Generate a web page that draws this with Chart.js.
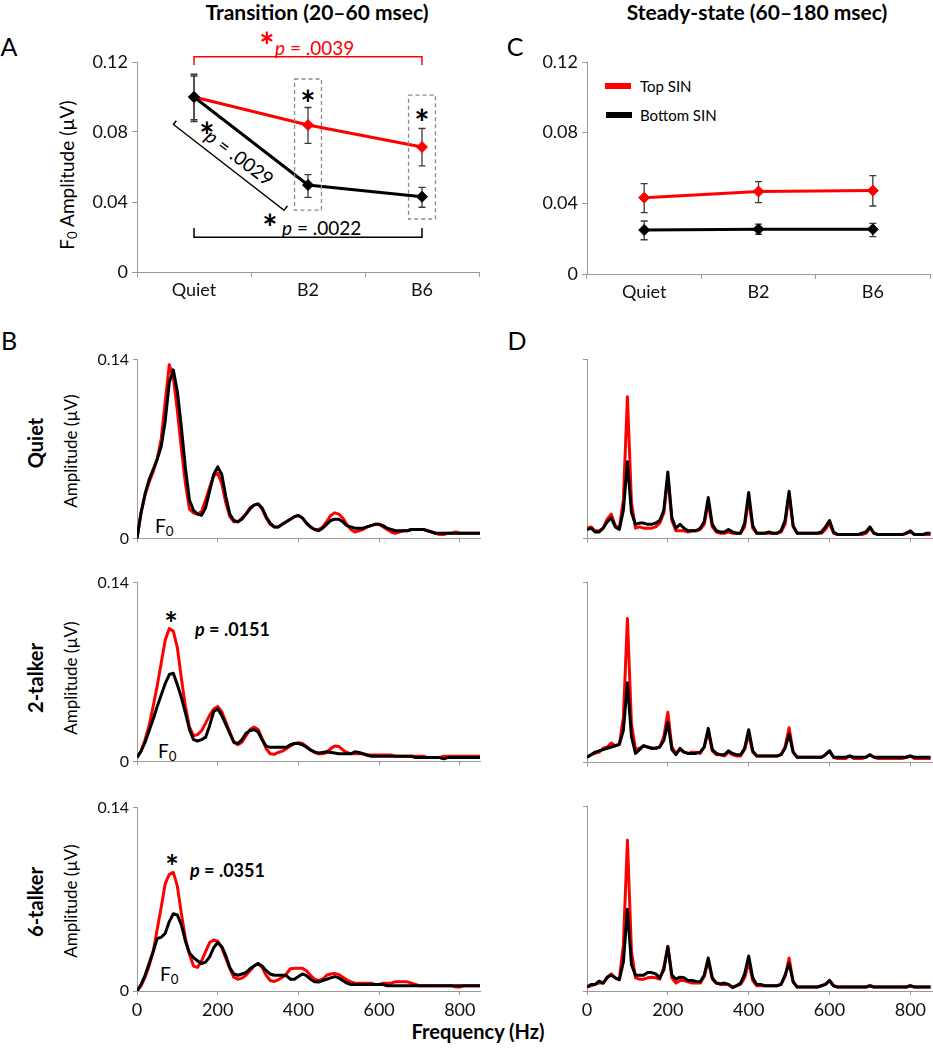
<!DOCTYPE html>
<html>
<head>
<title>F0 amplitude, Top vs Bottom SIN</title>
<script src="https://cdn.jsdelivr.net/npm/chart.js"></script>
<style>
  body { margin: 0; background: #fff; font-family: Lato, 'Open Sans', sans-serif; color: #000; }
  #fig { position: relative; width: 933px; height: 1050px; overflow: hidden; }
  #fig canvas { position: absolute; }
  .t { position: absolute; transform: translate(-50%, -50%); white-space: nowrap; line-height: 1; }
  .l { position: absolute; transform: translate(0, -50%); white-space: nowrap; line-height: 1; }
  .v { position: absolute; transform: translate(-50%, -50%) rotate(-90deg); white-space: nowrap; line-height: 1; }
  .star { font-weight: 700; font-size: 36px; }
  sub { font-size: 70%; vertical-align: -0.25em; }
</style>
</head>
<body>
<div id="fig">
  <div class="t" style="left:317px;top:11px;font-size:21px;font-weight:700">Transition (20–60 msec)</div>
  <div class="t" style="left:757px;top:11px;font-size:21px;font-weight:700">Steady-state (60–180 msec)</div>
  <div class="t" style="left:9px;top:46px;font-size:25px">A</div>
  <div class="t" style="left:515px;top:46px;font-size:25px">C</div>
  <div class="t" style="left:9px;top:340px;font-size:25px">B</div>
  <div class="t" style="left:517px;top:340px;font-size:25px">D</div>
  <div class="v" style="left:68px;top:175px;font-size:19px">F<sub>0</sub> Amplitude (µV)</div>

  <!-- panel A annotations -->
  <div class="t star" style="left:267px;top:45px;color:#f00">*</div>
  <div class="l" style="left:275px;top:47px;font-size:19px;color:#f00"><i>p</i> = .0039</div>
  <div class="t star" style="left:270px;top:227px">*</div>
  <div class="l" style="left:282px;top:227px;font-size:19px"><i>p</i> = .0022</div>
  <div class="t star" style="left:207px;top:135px">*</div>
  <div class="t" style="left:240px;top:157px;font-size:19px;transform:translate(-50%,-50%) rotate(37deg)"><i>p</i> = .0029</div>
  <div class="t star" style="left:308px;top:103px">*</div>
  <div class="t star" style="left:422px;top:122px">*</div>

  <!-- panel C legend -->
  <div style="position:absolute;left:605px;top:83px;width:26px;height:6px;background:#f00"></div>
  <div class="l" style="left:640px;top:86px;font-size:15px">Top SIN</div>
  <div style="position:absolute;left:606px;top:112px;width:26px;height:6px;background:#000"></div>
  <div class="l" style="left:640px;top:115px;font-size:15px">Bottom SIN</div>

  <!-- panel B labels -->
  <div class="v" style="left:35px;top:443px;font-size:20px;font-weight:700">Quiet</div>
  <div class="v" style="left:70px;top:451px;font-size:17px">Amplitude (µV)</div>
  <div class="v" style="left:35px;top:678px;font-size:20px;font-weight:700">2-talker</div>
  <div class="v" style="left:70px;top:678px;font-size:17px">Amplitude (µV)</div>
  <div class="v" style="left:35px;top:902px;font-size:20px;font-weight:700">6-talker</div>
  <div class="v" style="left:70px;top:901px;font-size:17px">Amplitude (µV)</div>
  <div class="l" style="left:155px;top:527px;font-size:19px">F<sub>0</sub></div>
  <div class="l" style="left:158px;top:752px;font-size:19px">F<sub>0</sub></div>
  <div class="l" style="left:160px;top:975px;font-size:19px">F<sub>0</sub></div>
  <div class="t star" style="left:171px;top:624px;font-size:32px">*</div>
  <div class="l" style="left:195px;top:629px;font-size:18px;font-weight:700"><i>p</i> = .0151</div>
  <div class="t star" style="left:172px;top:867px;font-size:32px">*</div>
  <div class="l" style="left:190px;top:870px;font-size:18px;font-weight:700"><i>p</i> = .0351</div>
  <div class="t" style="left:478px;top:1031px;font-size:20px;font-weight:700">Frequency (Hz)</div>
</div>
<script>
// ---- summary panels (A, C) ----
const conditions = ['Quiet', 'B2', 'B6'];
const ampTicks = [0, 0.04, 0.08, 0.12];

const transTop = [0.100, 0.084, 0.0714];
const transTopLo = [0.086, 0.0735, 0.0607];
const transTopHi = [0.113, 0.094, 0.082];
const transBottom = [0.100, 0.0497, 0.043];
const transBottomLo = [0.087, 0.0427, 0.037];
const transBottomHi = [0.112, 0.0556, 0.0484];

const steadyTop = [0.0432, 0.0467, 0.0472];
const steadyTopLo = [0.0347, 0.0404, 0.0385];
const steadyTopHi = [0.0512, 0.0523, 0.0557];
const steadyBottom = [0.0249, 0.0253, 0.0253];
const steadyBottomLo = [0.0194, 0.0225, 0.0211];
const steadyBottomHi = [0.030, 0.0282, 0.0287];

// ---- spectra (B, D) ----
const specTicks = [0, 0.14];
const freqTicks = [0, 200, 400, 600, 800];
const freq = [0,10,20,30,40,50,60,70,80,90,100,110,120,130,140,150,160,170,180,190,
  200,210,220,230,240,250,260,270,280,290,300,310,320,330,340,350,360,370,380,390,
  400,410,420,430,440,450,460,470,480,490,500,510,520,530,540,550,560,570,580,590,
  600,610,620,630,640,650,660,670,680,690,700,710,720,730,740,750,760,770,780,790,
  800,810,820,830,840,850];

// transition spectra
const quietTransTop = [0,.020,.034,.044,.052,.062,.078,.107,.136,.126,
  .100,.070,.043,.023,.020,.019,.021,.030,.040,.049,
  .051,.043,.028,.017,.013,.013,.016,.019,.024,.026,
  .027,.023,.016,.011,.009,.009,.011,.013,.015,.017,
  .018,.016,.012,.009,.007,.007,.009,.013,.018,.020,
  .019,.016,.011,.007,.005,.006,.007,.009,.010,.011,
  .011,.009,.007,.005,.004,.005,.006,.006,.007,.007,
  .007,.007,.006,.005,.004,.003,.003,.004,.004,.005,
  .004,.004,.004,.004,.004,.004];
const quietTransBottom = [0,.020,.035,.046,.054,.062,.072,.092,.122,.132,
  .115,.087,.055,.030,.022,.019,.018,.024,.037,.050,
  .056,.050,.033,.019,.014,.013,.015,.019,.023,.026,
  .027,.024,.017,.012,.009,.009,.011,.013,.015,.017,
  .018,.016,.012,.009,.007,.006,.008,.011,.014,.015,
  .015,.013,.010,.009,.008,.008,.008,.009,.010,.011,
  .011,.010,.008,.007,.006,.006,.006,.006,.007,.007,
  .007,.007,.006,.005,.004,.004,.004,.004,.004,.004,
  .004,.004,.004,.004,.004,.004];
const twoTransTop = [.003,.008,.017,.028,.043,.059,.077,.095,.104,.102,
  .089,.065,.043,.027,.020,.021,.024,.030,.036,.041,
  .043,.039,.031,.023,.015,.013,.015,.020,.025,.027,
  .025,.018,.010,.006,.0055,.007,.008,.010,.012,.014,
  .0146,.014,.0117,.009,.007,.006,.006,.007,.010,.012,
  .0117,.009,.007,.006,.006,.006,.006,.005,.005,.005,
  .005,.005,.005,.005,.004,.004,.004,.004,.004,.004,
  .004,.004,.003,.003,.003,.003,.004,.004,.004,.004,
  .004,.004,.004,.004,.004,.004];
const twoTransBottom = [.003,.008,.015,.024,.033,.043,.052,.061,.068,.069,
  .060,.050,.038,.025,.017,.016,.017,.019,.028,.039,
  .041,.036,.029,.022,.015,.014,.017,.022,.024,.025,
  .023,.017,.012,.011,.011,.011,.011,.011,.013,.014,
  .014,.013,.011,.009,.0075,.0065,.007,.0075,.007,.0065,
  .006,.006,.006,.006,.0075,.007,.006,.005,.004,.004,
  .004,.004,.004,.004,.004,.004,.004,.004,.004,.003,
  .003,.003,.003,.003,.003,.003,.002,.003,.003,.003,
  .003,.003,.003,.003,.003,.003];
const sixTransTop = [0,.004,.0105,.019,.030,.047,.064,.082,.089,.0905,
  .080,.059,.040,.028,.019,.018,.023,.030,.037,.039,
  .038,.033,.025,.017,.0105,.009,.0098,.012,.0155,.019,
  .021,.018,.012,.008,.0073,.0085,.0105,.013,.017,.0173,
  .0173,.0173,.0155,.012,.009,.008,.009,.012,.013,.0135,
  .0125,.0105,.0085,.007,.006,.006,.006,.006,.006,.005,
  .005,.006,.006,.006,.007,.007,.007,.007,.006,.005,
  .004,.004,.004,.004,.004,.004,.004,.004,.004,.003,
  .003,.004,.004,.004,.004,.004];
const sixTransBottom = [0,.005,.012,.021,.030,.040,.041,.044,.053,.059,
  .058,.0505,.038,.029,.0255,.023,.021,.022,.026,.033,
  .037,.034,.027,.018,.013,.012,.013,.014,.017,.019,
  .021,.019,.0155,.013,.012,.012,.012,.0118,.009,.009,
  .011,.013,.0118,.009,.007,.0068,.008,.009,.010,.011,
  .010,.008,.006,.005,.005,.005,.005,.005,.005,.005,
  .005,.005,.004,.004,.004,.004,.004,.004,.004,.004,
  .004,.004,.004,.004,.004,.004,.004,.004,.004,.004,
  .004,.004,.004,.004,.004,.004];

// steady-state spectra
const quietSteadyTop = [.008,.009,.006,.006,.008,.015,.019,.010,.008,.030,
  .111,.028,.008,.009,.008,.008,.008,.009,.012,.020,
  .048,.014,.006,.006,.006,.005,.006,.006,.007,.011,
  .028,.009,.005,.004,.004,.005,.004,.004,.004,.009,
  .031,.008,.004,.004,.004,.004,.004,.004,.005,.011,
  .034,.009,.004,.004,.004,.004,.004,.004,.004,.007,
  .012,.004,.003,.003,.003,.003,.003,.003,.003,.004,
  .008,.004,.003,.003,.003,.003,.003,.003,.003,.004,
  .005,.003,.003,.003,.003,.003];
const quietSteadyBottom = [.007,.008,.005,.005,.008,.013,.016,.009,.007,.022,
  .060,.020,.011,.012,.012,.011,.011,.012,.014,.022,
  .052,.016,.008,.011,.008,.006,.006,.006,.008,.013,
  .032,.011,.006,.005,.005,.007,.005,.004,.004,.012,
  .036,.010,.004,.004,.004,.005,.004,.004,.006,.014,
  .037,.010,.004,.004,.004,.004,.004,.004,.005,.009,
  .014,.005,.003,.003,.003,.003,.003,.003,.004,.005,
  .009,.004,.003,.003,.003,.003,.003,.003,.003,.004,
  .006,.003,.003,.003,.004,.004];
const twoSteadyTop = [.004,.006,.007,.008,.011,.012,.015,.013,.014,.035,
  .112,.030,.010,.011,.013,.012,.011,.011,.012,.020,
  .039,.012,.007,.010,.008,.007,.008,.008,.007,.012,
  .024,.009,.006,.006,.005,.008,.006,.005,.005,.010,
  .022,.008,.005,.005,.005,.005,.005,.005,.006,.012,
  .027,.008,.004,.004,.004,.004,.004,.004,.004,.006,
  .009,.004,.003,.003,.003,.005,.003,.003,.003,.004,
  .006,.004,.003,.003,.003,.003,.003,.003,.003,.004,
  .005,.003,.003,.003,.003,.003];
const twoSteadyBottom = [.004,.006,.008,.009,.010,.011,.012,.013,.014,.025,
  .062,.020,.007,.010,.013,.012,.011,.011,.012,.017,
  .031,.010,.006,.011,.008,.007,.007,.007,.008,.012,
  .0265,.010,.007,.006,.006,.009,.007,.006,.006,.011,
  .0255,.009,.005,.005,.005,.005,.005,.005,.006,.011,
  .022,.008,.004,.004,.004,.004,.004,.004,.004,.006,
  .009,.004,.004,.004,.004,.005,.004,.004,.004,.004,
  .006,.004,.004,.004,.004,.004,.004,.004,.004,.004,
  .005,.004,.004,.004,.004,.004];
const sixSteadyTop = [.003,.004,.005,.006,.006,.010,.013,.010,.009,.035,
  .1145,.030,.010,.009,.009,.010,.0105,.010,.009,.018,
  .034,.010,.006,.008,.008,.007,.006,.006,.006,.011,
  .023,.009,.006,.005,.005,.005,.003,.004,.005,.010,
  .022,.008,.004,.004,.004,.004,.004,.004,.005,.011,
  .025,.007,.003,.003,.003,.003,.003,.003,.004,.005,
  .008,.004,.003,.003,.003,.003,.003,.003,.003,.003,
  .004,.003,.003,.003,.003,.003,.003,.003,.003,.003,
  .004,.003,.003,.003,.003,.003];
const sixSteadyBottom = [.003,.005,.005,.0075,.006,.0105,.012,.010,.0085,.022,
  .062,.020,.012,.012,.012,.014,.014,.013,.010,.016,
  .0336,.012,.009,.0105,.010,.008,.008,.0072,.007,.012,
  .025,.010,.006,.0055,.006,.005,.0025,.004,.006,.013,
  .0266,.010,.005,.005,.004,.004,.004,.004,.005,.012,
  .021,.007,.003,.003,.003,.003,.003,.003,.004,.005,
  .008,.004,.003,.003,.003,.003,.003,.003,.003,.003,
  .004,.003,.003,.003,.003,.003,.003,.003,.003,.003,
  .004,.003,.003,.003,.003,.003];

const RED = '#ff0000';
const AXIS = '#9a9a9a';
const TICK_FONT = { family: 'Lato', size: 18 };
const fig = document.getElementById('fig');

function makeCanvas(box, pad) {
  const c = document.createElement('canvas');
  const w = pad.left + (box.r - box.l) + pad.right;
  const h = pad.top + (box.b - box.t) + pad.bottom;
  c.width = w; c.height = h;
  c.style.left = (box.l - pad.left) + 'px';
  c.style.top = (box.t - pad.top) + 'px';
  c.style.width = w + 'px';
  c.style.height = h + 'px';
  fig.appendChild(c);
  return c;
}

function baseOptions(pad) {
  return {
    responsive: false,
    animation: false,
    layout: { padding: { top: pad.top, right: pad.right, left: 0, bottom: 0 }, autoPadding: false },
    plugins: { legend: { display: false }, tooltip: { enabled: false } }
  };
}

// draws whiskers through the scales
function errorBarPlugin(sets) {
  return {
    id: 'errorBars',
    beforeDatasetsDraw(chart) {
      const { ctx } = chart;
      const x = chart.scales.x, y = chart.scales.y;
      ctx.save();
      ctx.strokeStyle = '#3a3a3a';
      ctx.lineWidth = 1.3;
      sets.forEach(set => {
        set.lo.forEach((lo, i) => {
          const px = x.getPixelForValue(i);
          const y1 = y.getPixelForValue(lo), y2 = y.getPixelForValue(set.hi[i]);
          ctx.beginPath();
          ctx.moveTo(px, y1); ctx.lineTo(px, y2);
          ctx.moveTo(px - 3.5, y1); ctx.lineTo(px + 3.5, y1);
          ctx.moveTo(px - 3.5, y2); ctx.lineTo(px + 3.5, y2);
          ctx.stroke();
        });
      });
      ctx.restore();
    }
  };
}

function summaryChart(box, pad, top, bottom, bars, extra) {
  const opts = baseOptions(pad);
  const marker = { borderWidth: 3, pointStyle: 'rectRot', pointRadius: 5.5, pointBorderWidth: 1 };
  opts.scales = {
    x: {
      offset: true,
      afterFit: s => { s.height = pad.bottom; },
      grid: { offset: true, drawOnChartArea: false, tickLength: 5, color: AXIS },
      border: { color: AXIS },
      ticks: { color: '#111', font: TICK_FONT, padding: 2 }
    },
    y: {
      min: 0, max: 0.12,
      afterFit: s => { s.width = pad.left; },
      afterBuildTicks: s => { s.ticks = ampTicks.map(v => ({ value: v })); },
      grid: { drawOnChartArea: false, tickLength: 5, color: AXIS },
      border: { color: AXIS },
      ticks: { color: '#111', font: TICK_FONT, padding: 4,
        callback: v => v === 0 ? '0' : v.toFixed(2) }
    }
  };
  return new Chart(makeCanvas(box, pad), {
    type: 'line',
    data: {
      labels: conditions,
      datasets: [
        Object.assign({ label: 'Bottom SIN', data: bottom, borderColor: '#000', backgroundColor: '#000' }, marker),
        Object.assign({ label: 'Top SIN', data: top, borderColor: RED, backgroundColor: RED }, marker)
      ]
    },
    options: opts,
    plugins: [errorBarPlugin(bars)].concat(extra || [])
  });
}

// brackets and dashed boxes of panel A
const transitionMarks = {
  id: 'transitionMarks',
  afterDatasetsDraw(chart) {
    const { ctx } = chart;
    const px = i => chart.scales.x.getPixelForValue(i);
    const py = v => chart.scales.y.getPixelForValue(v);
    ctx.save();
    ctx.lineWidth = 1.5;
    ctx.strokeStyle = RED;
    ctx.beginPath();
    ctx.moveTo(px(0), py(0.1183)); ctx.lineTo(px(0), py(0.123));
    ctx.lineTo(px(2), py(0.123)); ctx.lineTo(px(2), py(0.1183));
    ctx.stroke();
    ctx.strokeStyle = '#000';
    ctx.beginPath();
    ctx.moveTo(px(0), py(0.0251)); ctx.lineTo(px(0), py(0.0198));
    ctx.lineTo(px(2), py(0.0198)); ctx.lineTo(px(2), py(0.0251));
    ctx.stroke();
    ctx.beginPath();
    ctx.moveTo(px(-0.155), py(0.0865)); ctx.lineTo(px(-0.18), py(0.0843));
    ctx.lineTo(px(0.79), py(0.0353)); ctx.lineTo(px(0.82), py(0.0378));
    ctx.stroke();
    ctx.strokeStyle = '#8a8a8a';
    ctx.lineWidth = 1.3;
    ctx.setLineDash([4, 3]);
    [[1, 0.1103, 0.0354], [2, 0.1011, 0.0303]].forEach(([i, hi, lo]) => {
      const l = px(i - 0.118), r = px(i + 0.118);
      ctx.strokeRect(l, py(hi), r - l, py(lo) - py(hi));
    });
    ctx.restore();
  }
};

summaryChart({ l: 137, t: 62, r: 479, b: 272 }, { left: 55, top: 45, right: 5, bottom: 30 },
  transTop, transBottom,
  [{ lo: transBottomLo, hi: transBottomHi }, { lo: transTopLo, hi: transTopHi }],
  [transitionMarks]);

summaryChart({ l: 587, t: 62, r: 930, b: 274 }, { left: 55, top: 45, right: 3, bottom: 30 },
  steadyTop, steadyBottom,
  [{ lo: steadyBottomLo, hi: steadyBottomHi }, { lo: steadyTopLo, hi: steadyTopHi }]);

function spectrumChart(box, pad, top, bottom, cfg) {
  const opts = baseOptions(pad);
  const line = { borderWidth: 3, pointRadius: 0, tension: 0, borderJoinStyle: 'round' };
  opts.scales = {
    x: {
      type: 'linear', min: 0, max: cfg.xMax,
      afterFit: s => { s.height = pad.bottom; },
      afterBuildTicks: s => { s.ticks = freqTicks.map(v => ({ value: v })); },
      grid: { drawOnChartArea: false, tickLength: 4, color: AXIS },
      border: { color: AXIS },
      ticks: { display: cfg.xLabels, color: '#111', maxRotation: 0, font: TICK_FONT, padding: 4 }
    },
    y: {
      min: 0, max: 0.14,
      afterFit: s => { s.width = pad.left; },
      afterBuildTicks: s => { s.ticks = specTicks.map(v => ({ value: v })); },
      grid: { drawOnChartArea: false, tickLength: 4, color: AXIS },
      border: { color: AXIS },
      ticks: { color: '#111', font: { family: 'Lato', size: 16 }, padding: 4,
        callback: v => cfg.yLabels ? (v === 0 ? '0' : v.toFixed(2)) : '' }
    }
  };
  return new Chart(makeCanvas(box, pad), {
    type: 'line',
    data: {
      datasets: [
        Object.assign({ label: 'Bottom SIN', borderColor: '#000',
          data: freq.map((f, i) => ({ x: f, y: bottom[i] })) }, line),
        Object.assign({ label: 'Top SIN', borderColor: RED,
          data: freq.map((f, i) => ({ x: f, y: top[i] })) }, line)
      ]
    },
    options: opts
  });
}

const padB = { left: 45, top: 10, right: 5, bottom: 8 };
const padBLast = { left: 45, top: 10, right: 5, bottom: 30 };
const padD = { left: 10, top: 10, right: 0, bottom: 8 };
const padDLast = { left: 10, top: 10, right: 0, bottom: 30 };

spectrumChart({ l: 137, t: 356, r: 480, b: 544 }, padB, quietTransTop, quietTransBottom, { xMax: 850, yLabels: true, xLabels: false });
spectrumChart({ l: 137, t: 579, r: 480, b: 767 }, padB, twoTransTop, twoTransBottom, { xMax: 850, yLabels: true, xLabels: false });
spectrumChart({ l: 137, t: 804, r: 480, b: 991 }, padBLast, sixTransTop, sixTransBottom, { xMax: 850, yLabels: true, xLabels: true });

spectrumChart({ l: 587, t: 356, r: 933, b: 544 }, padD, quietSteadyTop, quietSteadyBottom, { xMax: 856, yLabels: false, xLabels: false });
spectrumChart({ l: 587, t: 579, r: 933, b: 768 }, padD, twoSteadyTop, twoSteadyBottom, { xMax: 856, yLabels: false, xLabels: false });
spectrumChart({ l: 587, t: 803, r: 933, b: 991 }, padDLast, sixSteadyTop, sixSteadyBottom, { xMax: 856, yLabels: false, xLabels: true });
</script>
</body>
</html>
